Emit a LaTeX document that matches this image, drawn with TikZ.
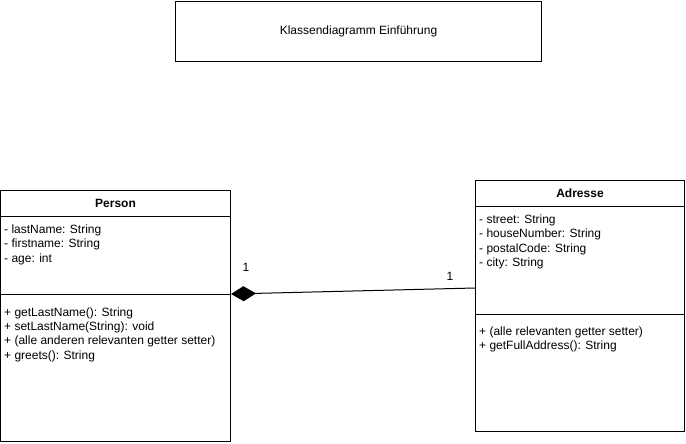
\documentclass[tikz,border=0pt]{standalone}
\usepackage{fontspec}
\setmainfont{Liberation Sans}
\usetikzlibrary{arrows.meta, positioning}

\begin{document}
\begin{tikzpicture}[
  x=1pt, y=-1pt,
  every node/.style={font=\fontsize{12}{14.4}\selectfont},
  part/.style={draw, line width=1pt, rectangle, anchor=north west, inner sep=0pt},
  members/.style={anchor=north west, inner sep=0pt, align=left},
  assoc/.style={{Diamond[length=25pt, width=15pt]}-, line width=1pt}
]
  \useasboundingbox (0,0) rectangle (686,444);

  % title
  \node[part, minimum width=366pt, minimum height=60pt] (title) at (175,1) {Klassendiagramm Einführung};

  % class Person
  \node[part, minimum width=230pt, minimum height=26pt, font=\fontsize{12}{14.4}\selectfont\bfseries] (phead) at (0,190) {Person};
  \node[part, minimum width=230pt, minimum height=78pt] (pattr) at (0,216) {};
  \node[part, minimum width=230pt, minimum height=147pt] (pmeth) at (0,294) {};
  \node[members] (pattrtxt) at (4,224.6) {- lastName: String\\- firstname: String\\- age: int};
  \node[members] (pmethtxt) at (4,307.3) {+ getLastName(): String\\+ setLastName(String): void\\+ (alle anderen relevanten getter setter)\\+ greets(): String};

  % class Adresse
  \node[part, minimum width=209pt, minimum height=26pt, font=\fontsize{12}{14.4}\selectfont\bfseries] (ahead) at (475,180) {Adresse};
  \node[part, minimum width=209pt, minimum height=108pt] (aattr) at (475,206) {};
  \node[part, minimum width=209pt, minimum height=117pt] (ameth) at (475,314) {};
  \node[members] (aattrtxt) at (479,214.6) {- street: String\\- houseNumber: String\\- postalCode: String\\- city: String};
  \node[members] (amethtxt) at (479,326.3) {+ (alle relevanten getter setter)\\+ getFullAddress(): String};

  % composition
  \draw[assoc] (pmeth.north east) -- ([yshift=27pt]aattr.south west);
  \node (mult1) at (246,267) {1};
  \node (mult2) at (450,276) {1};
\end{tikzpicture}
\end{document}
